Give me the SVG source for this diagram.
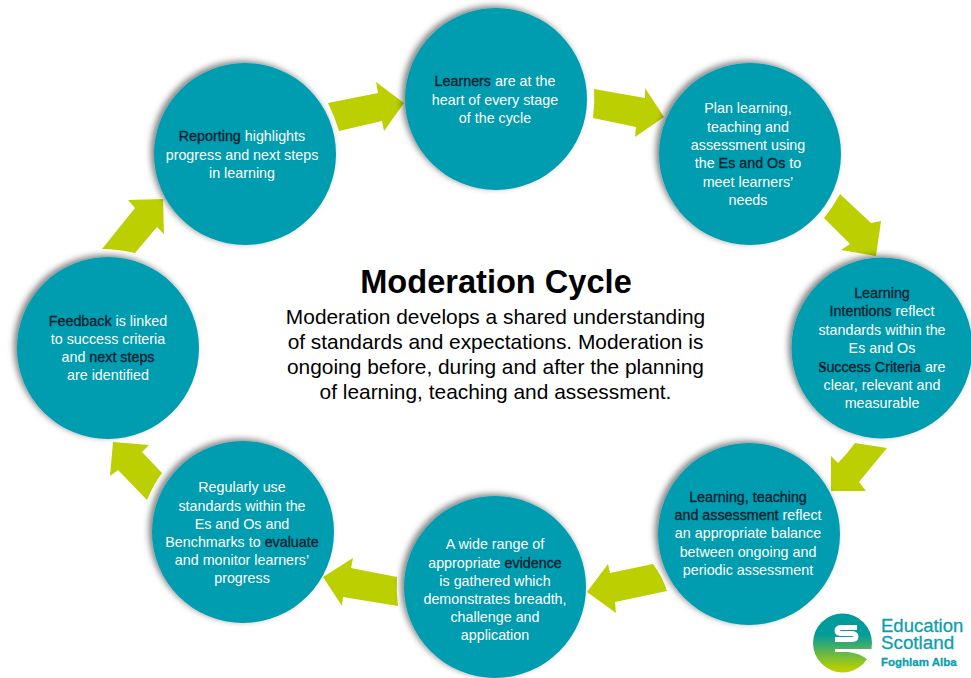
<svg xmlns="http://www.w3.org/2000/svg" width="971" height="678" viewBox="0 0 971 678">
<style>
.c{fill:#009cb0;filter:url(#sh)}
.a{fill:#bccf00}
.t{font-family:"Liberation Sans",Arial,sans-serif;font-size:14.3px;fill:#fff;text-anchor:middle}
.k{fill:#04202e;stroke:#04202e;stroke-width:0.3px}
.h{font-family:"Liberation Sans",Arial,sans-serif;fill:#000;text-anchor:middle}
.lg{font-family:"Liberation Sans",Arial,sans-serif;fill:#0a9fb0;stroke:#0a9fb0;stroke-width:0.3px}
</style>
<defs>
<filter id="sh" x="-20%" y="-20%" width="140%" height="140%"><feDropShadow dx="-3" dy="-2" stdDeviation="3" flood-color="#000" flood-opacity="0.5"/></filter>
<linearGradient id="eg" x1="0" y1="0" x2="0" y2="1"><stop offset="0.35" stop-color="#009c9c"/><stop offset="0.95" stop-color="#bccf00"/></linearGradient>
</defs>
<rect width="971" height="678" fill="#fff"/>
<g id="connectors">
<path class="a" d="M328 103L378 93L376 82L404 103L384 131L382 121L339 131Q335 117 328 103Z"/>
<path class="a" d="M594 89L645 98L645 88L664 117L635 137L636 127L593 118Q595 103 594 89Z"/>
<path class="a" d="M840 194L871 223L881 221L876 256L841 250L850 244L824 218Q833 207 840 194Z"/>
<path class="a" d="M855 443L887 448L859 482L866 491L831 491L831 456L838 463Q847 454 855 443Z"/>
<path class="a" d="M653 564Q662 576 667 591L615 602L616 613L587 592L608 564L610 573Z"/>
<path class="a" d="M397 577Q396 592 398 606L343 597L342 606L323 577L353 558L351 568Z"/>
<path class="a" d="M113 442L149 445L142 452L162 473Q153 485 147 500L118 470L110 476Z"/>
<path class="a" d="M128 200L163 199L164 234L157 227L135 253Q118 249 102 249L135 208Z"/>
</g>
<g id="node-learners"><circle class="c" cx="496" cy="99" r="91"/>
<text class="t" x="495" y="86"><tspan class="k">Learners</tspan> are at the</text><text class="t" x="495" y="105">heart of every stage</text><text class="t" x="495" y="123">of the cycle</text></g>
<g id="node-plan"><circle class="c" cx="750" cy="154" r="91"/>
<text class="t" x="748" y="113">Plan learning,</text><text class="t" x="748" y="132">teaching and</text><text class="t" x="748" y="150">assessment using</text><text class="t" x="748" y="168">the <tspan class="k">Es and Os</tspan> to</text><text class="t" x="748" y="187">meet learners’</text><text class="t" x="748" y="205">needs</text></g>
<g id="node-intentions"><circle class="c" cx="882" cy="348" r="90.500"/>
<text class="t" x="882" y="298"><tspan class="k">Learning</tspan></text><text class="t" x="882" y="316"><tspan class="k">Intentions</tspan> reflect</text><text class="t" x="882" y="335">standards within the</text><text class="t" x="882" y="353">Es and Os</text><text class="t" x="882" y="372"><tspan class="k" font-family="Liberation Serif" font-weight="bold">S</tspan><tspan class="k">uccess Criteria</tspan> are</text><text class="t" x="882" y="390">clear, relevant and</text><text class="t" x="882" y="408">measurable</text></g>
<g id="node-balance"><circle class="c" cx="749" cy="534" r="91"/>
<text class="t" x="748" y="502"><tspan class="k">Learning, teaching</tspan></text><text class="t" x="748" y="520"><tspan class="k">and assessment</tspan> reflect</text><text class="t" x="748" y="538">an appropriate balance</text><text class="t" x="748" y="557">between ongoing and</text><text class="t" x="748" y="575">periodic assessment</text></g>
<g id="node-evidence"><circle class="c" cx="495" cy="587" r="91"/>
<text class="t" x="495" y="549">A wide range of</text><text class="t" x="495" y="568">appropriate <tspan class="k">evidence</tspan></text><text class="t" x="495" y="586">is gathered which</text><text class="t" x="495" y="604">demonstrates breadth,</text><text class="t" x="495" y="622">challenge and</text><text class="t" x="495" y="640">application</text></g>
<g id="node-evaluate"><circle class="c" cx="243" cy="532" r="91"/>
<text class="t" x="242" y="492">Regularly use</text><text class="t" x="242" y="511">standards within the</text><text class="t" x="242" y="529">Es and Os and</text><text class="t" x="242" y="547">Benchmarks to <tspan class="k">evaluate</tspan></text><text class="t" x="242" y="565">and monitor learners’</text><text class="t" x="242" y="583">progress</text></g>
<g id="node-feedback"><circle class="c" cx="108" cy="348" r="91"/>
<text class="t" x="108" y="326"><tspan class="k">Feedback</tspan> is linked</text><text class="t" x="108" y="344">to success criteria</text><text class="t" x="108" y="362">and <tspan class="k">next steps</tspan></text><text class="t" x="108" y="380">are identified</text></g>
<g id="node-reporting"><circle class="c" cx="245" cy="154" r="91"/>
<text class="t" x="242" y="141"><tspan class="k">Reporting</tspan> highlights</text><text class="t" x="242" y="160">progress and next steps</text><text class="t" x="242" y="178">in learning</text></g>
<g id="centre">
<text class="h" x="496" y="293" font-size="32.600" font-weight="bold">Moderation Cycle</text>
<text class="h" x="495.500" y="324" font-size="20.900">Moderation develops a shared understanding</text>
<text class="h" x="495.500" y="349" font-size="20.900">of standards and expectations. Moderation is</text>
<text class="h" x="495.500" y="374" font-size="20.900">ongoing before, during and after the planning</text>
<text class="h" x="495.500" y="399" font-size="20.900">of learning, teaching and assessment.</text>
</g>
<g id="logo">
<circle cx="842.500" cy="643" r="29.500" fill="url(#eg)"/>
<path d="M857 627.500H842Q837 627.500 837 630.500Q837 633.500 842 633.500H851Q856 633.500 856 636.500Q856 639.500 851 639.500H835" fill="none" stroke="#fff" stroke-width="5"/>
<path d="M835 649H874V663L868 660Q860 653 848 652H835Z" fill="#fff"/>
<text class="lg" x="881" y="632" font-size="18.500">Education</text>
<text class="lg" x="881" y="649" font-size="18.800">Scotland</text>
<text class="lg" x="881" y="666" font-size="11.500" font-weight="bold">Foghlam Alba</text>
</g>
</svg>
